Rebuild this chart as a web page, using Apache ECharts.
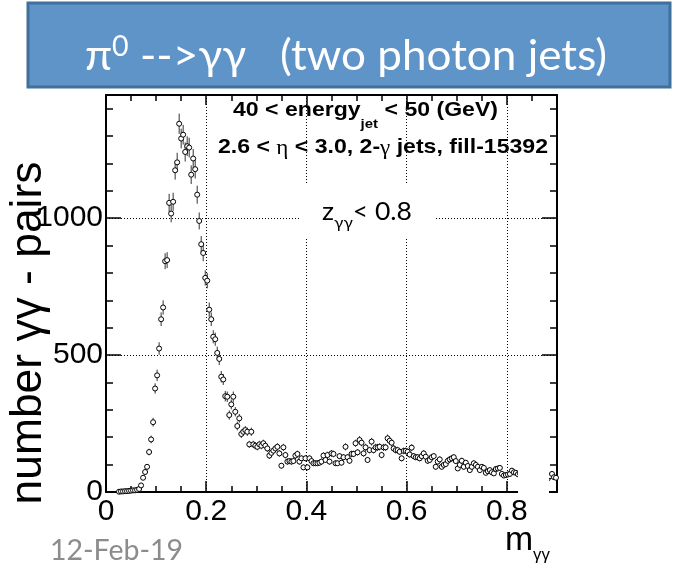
<!DOCTYPE html>
<html><head><meta charset="utf-8">
<script src="https://cdn.jsdelivr.net/npm/echarts@6/dist/echarts.min.js"></script>
<style>html,body{margin:0;padding:0;background:#fff}#c{width:673px;height:570px}</style>
</head><body><div id="c"></div>
<script>
// ---- data (histogram of m_gamma-gamma, bins of width 0.004 starting at 0) ----
const binWidth = 0.004;
const xMin = 0, xMax = 0.9;
const yMin = 0, yMax = 1450;
const xTickValues = [0, 0.2, 0.4, 0.6, 0.8];
const yTickValues = [0, 500, 1000];
const counts = [
  0,0,0,0,0,0,1,2,2,3,
  3,4,5,6,6,8,11,24,52,73,
  92,146,192,255,378,426,524,631,674,843,
  847,1056,1017,1060,1175,1204,1345,1291,1305,1242,
  1263,1258,1159,1218,1179,1086,990,905,873,782,
  772,666,631,567,558,508,486,421,411,350,
  348,281,320,348,293,241,269,212,220,226,
  220,174,220,174,169,165,174,169,178,169,
  159,133,143,151,159,165,141,96,163,135,
  111,113,111,113,133,139,111,123,90,123,
  90,123,113,105,105,105,107,111,133,117,
  135,111,141,139,105,105,131,107,127,165,
  127,114,139,139,178,145,190,180,141,163,
  117,153,184,153,163,163,165,135,163,163,
  196,187,180,159,153,153,147,123,150,150,
  147,137,162,131,127,127,123,131,141,129,
  114,117,127,131,92,111,119,92,99,102,
  114,119,123,127,113,86,99,114,92,107,
  95,80,92,105,99,92,80,92,88,70,
  76,80,72,68,84,86,88,66,60,62,
  64,66,78,72,70,65,68,62,66,64,
  60,63,66,58,62,60,64,58,56,60,
  50,58,66,54,52
];
const errors = [
  0,0,0,0,0,0,1,2,2,2,
  2,2,3,3,3,3,4,5,8,9,
  10,12,14,16,19,21,23,25,26,29,
  29,33,32,33,34,35,37,36,36,35,
  36,36,34,35,34,33,31,30,30,28,
  28,26,25,24,24,23,22,21,20,19,
  19,17,18,19,17,16,16,15,15,15,
  15,13,15,13,13,13,13,13,13,13,
  13,12,12,12,13,13,12,10,13,12,
  11,11,11,11,12,12,11,11,10,11,
  10,11,11,10,10,10,10,11,12,11,
  12,11,12,12,10,10,11,10,11,13,
  11,11,12,12,13,12,14,13,12,13,
  11,12,14,12,13,13,13,12,13,13,
  14,14,13,13,12,12,12,11,12,12,
  12,12,13,11,11,11,11,11,12,11,
  11,11,11,11,10,11,11,10,10,10,
  11,11,11,11,11,9,10,11,10,10,
  10,9,10,10,10,10,9,10,9,8,
  9,9,8,8,9,9,9,8,8,8,
  8,8,9,8,8,8,8,8,8,8,
  8,8,8,8,8,8,8,8,7,8,
  7,8,8,7,7
];

// ---- fonts / text helpers ----
const HEL = '"Liberation Sans", Arial, Helvetica, sans-serif';
const CAL = 'Lato, "Open Sans", sans-serif';
const SYM = '"Liberation Serif", "DejaVu Serif", serif';
const mctx = document.createElement('canvas').getContext('2d');
function fontStr(w, fs, fam){ return (w||'normal') + ' ' + fs.toFixed(2) + 'px ' + fam; }
function measure(t, f){ mctx.font = f; return mctx.measureText(t).width; }
function midOffset(t, f, fs){
  mctx.font = f; const m = mctx.measureText(t);
  if (m.fontBoundingBoxAscent !== undefined) return (m.fontBoundingBoxAscent - m.fontBoundingBoxDescent)/2;
  return 0.35*fs;
}
// segments laid out left to right; fits width x0..x1. If fixedSize given, font size is fixed and
// horizontal scale is used to fit the width.
function textRun(segs, x0, x1, baseline, color, fixedSize){
  let w100 = 0;
  segs.forEach(s => { w100 += measure(s.t, fontStr(s.w, 100*(s.rel||1), s.f)); });
  let size = 100*(x1-x0)/w100, sx = 1;
  if (fixedSize) { sx = size/fixedSize; size = fixedSize; }
  let x = x0; const els = [];
  segs.forEach(s => {
    const fs = size*(s.rel||1);
    const f = fontStr(s.w, fs, s.f);
    const by = baseline + (s.dy||0)*size;
    els.push({type:'text', z:100, x:x, y: by - midOffset(s.t, f, fs), scaleX:sx, silent:true,
      style:{text:s.t, font:f, fill:color, textAlign:'left', textVerticalAlign:'middle'}});
    x += measure(s.t, f)*sx;
  });
  return els;
}

const graphics = [];
// title box
graphics.push({type:'rect', z:90, shape:{x:28, y:3, width:642, height:84},
  style:{fill:'#5f94c9', stroke:'#41709c', lineWidth:3}});
graphics.push(...textRun([
  {t:'\u03c0', f:CAL}, {t:'0', f:CAL, rel:0.65, dy:-0.36},
  {t:' -->\u03b3\u03b3   (two photon jets)', f:CAL}], 85, 607, 73, '#ffffff', 43));
// annotations
graphics.push(...textRun([
  {t:'40 < energy', f:HEL, w:'bold'}, {t:'jet', f:HEL, w:'bold', rel:0.65, dy:0.62},
  {t:' < 50 (GeV)', f:HEL, w:'bold'}], 233, 498, 117, '#000', 20));
graphics.push(...textRun([
  {t:'2.6 < ', f:HEL, w:'bold'}, {t:'\u03b7', f:SYM}, {t:' < 3.0, 2-', f:HEL, w:'bold'},
  {t:'\u03b3', f:SYM}, {t:' jets, fill-15392', f:HEL, w:'bold'}], 218, 548, 155, '#000', 21));
graphics.push({type:'rect', z:95, shape:{x:300, y:183, width:135, height:56}, style:{fill:'#fff'}});
graphics.push(...textRun([
  {t:'z', f:CAL}, {t:'\u03b3\u03b3', f:CAL, rel:0.65, dy:0.3}, {t:'< 0.8', f:CAL}], 322, 412, 222, '#000', 25));
// white cover over the lower right corner (as in the slide)
graphics.push({type:'rect', z:95, shape:{x:518, y:370, width:31, height:127}, style:{fill:'#fff'}});
// axis titles
(function(){
  const t = 'number \u03b3\u03b3 - pairs';
  const fs = 100*343/measure(t, fontStr('normal',100,HEL));
  graphics.push({type:'text', z:100, x:29, y:333, rotation:Math.PI/2, silent:true,
    style:{text:t, font:fontStr('normal',fs,HEL), fill:'#000', textAlign:'center', textVerticalAlign:'middle'}});
})();
graphics.push(...textRun([{t:'m', f:HEL}, {t:'\u03b3\u03b3', f:HEL, rel:0.5, dy:0.22}], 505, 550, 553, '#000'));
graphics.push(...textRun([{t:'12-Feb-19', f:CAL}], 50, 183, 562, '#8c8c8c'));

// ---- series data ----
const pts = [], bars = [];
counts.forEach((v, k) => {
  if (v > 0) {
    const x = xMin + binWidth*(k + 0.5);
    pts.push([x, v]);
    bars.push([x, v - errors[k], v + errors[k]]);
  }
});
const isTick = (v, arr) => arr.some(t => Math.abs(t - v) < 1e-9);
const fmtX = v => v === 0 ? '0' : v.toFixed(1);

function xAx(pos){
  return {type:'value', min:xMin, max:xMax, interval:0.2, position:pos,
    axisLine:{show:true, onZero:false, lineStyle:{color:'#000', width:2}},
    axisTick:{show:true, inside:true, length: pos==='bottom'?11:10, lineStyle:{color:'#000', width:1.5}},
    minorTick:{show:true, splitNumber:4, length:6, lineStyle:{color:'#000', width:1.5}},
    splitLine:{show: pos==='bottom', lineStyle:{color:'#000', type:[1,2], width:1}},
    minorSplitLine:{show:false},
    axisLabel:{show: pos==='bottom', fontSize:30, fontFamily:HEL, color:'#000', margin:5,
      formatter: v => isTick(v, xTickValues) ? fmtX(v) : ''}
  };
}
function yAx(pos){
  return {type:'value', min:yMin, max:yMax, interval:500, position:pos,
    axisLine:{show:true, onZero:false, lineStyle:{color:'#000', width:2}},
    axisTick:{show:true, inside:true, length:15, lineStyle:{color:'#000', width:1.5}},
    minorTick:{show:true, splitNumber:5, length:7, lineStyle:{color:'#000', width:1.5}},
    splitLine:{show: pos==='left', lineStyle:{color:'#000', type:[1,2], width:1}},
    minorSplitLine:{show:false},
    axisLabel:{show: pos==='left', fontSize:30, fontFamily:HEL, color:'#000', margin:3,
      formatter: v => isTick(v, yTickValues) ? String(v) : ''}
  };
}

const chart = echarts.init(document.getElementById('c'), null, {renderer:'canvas'});
chart.setOption({
  animation:false,
  backgroundColor:'#fff',
  grid:{left:106, right:116, top:95, bottom:78, containLabel:false},
  xAxis:[xAx('bottom'), xAx('top')],
  yAxis:[yAx('left'), yAx('right')],
  series:[
    {type:'custom', xAxisIndex:0, yAxisIndex:0, data:bars, z:3, silent:true,
      encode:{x:0, y:[1,2]},
      renderItem:(params, api) => {
        const p1 = api.coord([api.value(0), api.value(1)]);
        const p2 = api.coord([api.value(0), api.value(2)]);
        return {type:'line', shape:{x1:p1[0], y1:p1[1], x2:p2[0], y2:p2[1]},
          style:{stroke:'#333', lineWidth:1}};
      }},
    {type:'scatter', xAxisIndex:0, yAxisIndex:0, data:pts, z:4, silent:true,
      symbol:'circle', symbolSize:5,
      itemStyle:{color:'#fff', borderColor:'#000', borderWidth:1, opacity:1}}
  ],
  graphic:{elements:graphics}
});
</script></body></html>
